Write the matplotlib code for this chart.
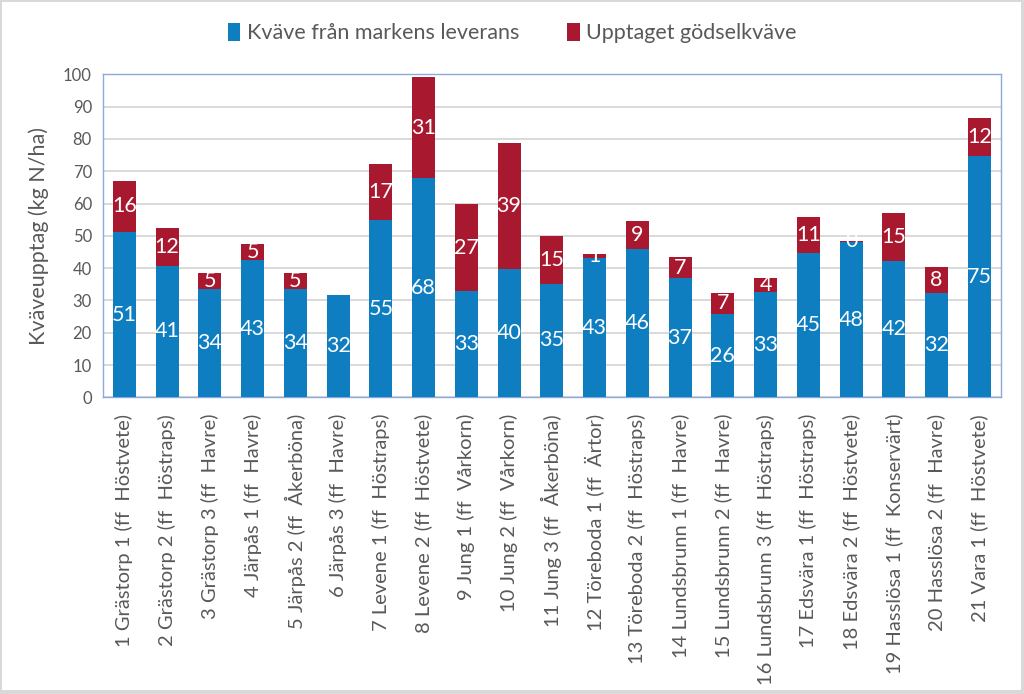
import matplotlib.pyplot as plt
import matplotlib.patches as mpatches
import numpy as np

# Data
platser = [
    '1 Grästorp 1 (ff  Höstvete)', '2 Grästorp 2 (ff  Höstraps)', '3 Grästorp 3 (ff  Havre)',
    '4 Järpås 1 (ff  Havre)', '5 Järpås 2 (ff  Åkerböna)', '6 Järpås 3 (ff  Havre)',
    '7 Levene 1 (ff  Höstraps)', '8 Levene 2 (ff  Höstvete)', '9 Jung 1 (ff  Vårkorn)',
    '10 Jung 2 (ff  Vårkorn)', '11 Jung 3 (ff  Åkerböna)', '12 Töreboda 1 (ff  Ärtor)',
    '13 Töreboda 2 (ff  Höstraps)', '14 Lundsbrunn 1 (ff  Havre)', '15 Lundsbrunn 2 (ff  Havre)',
    '16 Lundsbrunn 3 (ff  Höstraps)', '17 Edsvära 1 (ff  Höstraps)', '18 Edsvära 2 (ff  Höstvete)',
    '19 Hasslösa 1 (ff  Konservärt)', '20 Hasslösa 2 (ff  Havre)', '21 Vara 1 (ff  Höstvete)',
]
markens_leverans = [51.2, 40.8, 33.6, 42.6, 33.6, 31.6, 54.8, 67.8, 32.8, 39.6, 35.2,
                    43.2, 45.8, 36.8, 25.8, 32.6, 44.7, 48.1, 42.2, 32.2, 74.6]
godselkvave = [15.8, 11.7, 5.0, 5.0, 4.8, 0.0, 17.3, 31.4, 27.0, 39.0, 14.8,
               1.2, 8.8, 6.6, 6.6, 4.2, 11.0, 0.4, 15.0, 8.0, 12.0]

BLUE = '#0F7EC1'
RED = '#A8182F'
TEXT = '#595959'

plt.rcParams['font.family'] = ['Lato', 'DejaVu Sans']

fig = plt.figure(figsize=(10.24, 6.94), dpi=100, facecolor='#D9D9D9')
fig.patches.append(mpatches.Rectangle((2 / 1024, 4 / 694), 1019 / 1024, 688 / 694,
                                      transform=fig.transFigure, facecolor='white',
                                      edgecolor='none', zorder=-1))

ax = fig.add_axes([103 / 1024, 1 - 397.3 / 694, 897.7 / 1024, 323 / 694])
ax.set_facecolor('white')

x = np.arange(len(platser))
b1 = ax.bar(x, markens_leverans, width=0.54, color=BLUE, zorder=3,
            label='Kväve från markens leverans')
b2 = ax.bar(x, godselkvave, width=0.54, bottom=markens_leverans, color=RED, zorder=3,
            label='Upptaget gödselkväve')

ax.bar_label(b1, labels=[f'{round(v)}' for v in markens_leverans], label_type='center',
             color='white', fontsize=15.5)
ax.bar_label(b2, labels=[f'{round(v)}' if v > 0 else '' for v in godselkvave],
             label_type='center', color='white', fontsize=15.5)

ax.set_xlim(-0.5, len(platser) - 0.5)
ax.set_ylim(0, 100)
ax.set_yticks(range(0, 101, 10))
ax.yaxis.grid(True, color='#D9D9D9', linewidth=1.4, zorder=0)
ax.set_axisbelow(True)

ax.set_xticks(x)
ax.set_xticklabels(platser, rotation=90, fontsize=14.5, color=TEXT)
ax.tick_params(axis='y', labelsize=12, colors=TEXT, length=0, pad=8)
ax.tick_params(axis='x', length=0, pad=12)

for s in ax.spines.values():
    s.set_color('#8EA9DB')
    s.set_linewidth(1.0)

ax.set_ylabel('Kväveupptag (kg N/ha)', fontsize=15.5, color=TEXT, labelpad=10)

fig.legend(handles=[b1, b2], loc='center', bbox_to_anchor=(0.5, 1 - 33 / 694),
           ncol=2, frameon=False, fontsize=15.5, labelcolor=TEXT,
           handlelength=0.6, handleheight=0.9, handletextpad=0.3, columnspacing=2.2)

fig.savefig('out.png', dpi=100, facecolor=fig.get_facecolor())
